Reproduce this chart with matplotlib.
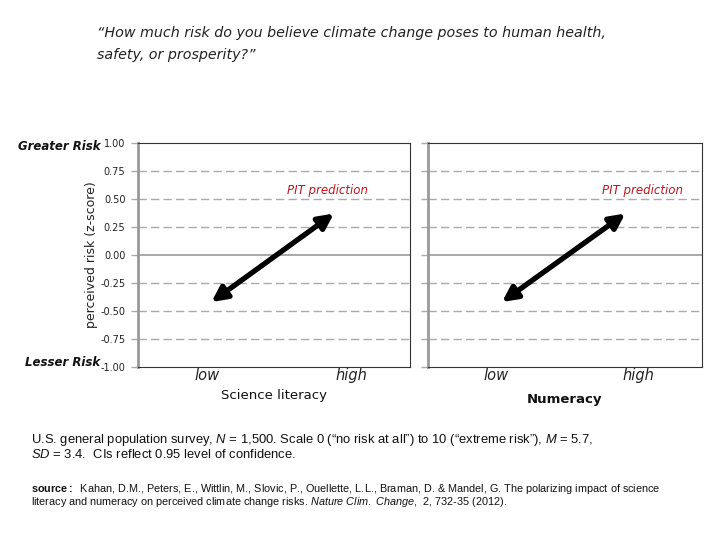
import matplotlib
matplotlib.use("Agg")
import matplotlib.pyplot as plt

plt.rcParams['mathtext.fontset'] = 'custom'
plt.rcParams['mathtext.rm'] = 'Liberation Sans'
plt.rcParams['mathtext.it'] = 'Liberation Sans:italic'
plt.rcParams['mathtext.bf'] = 'Liberation Sans:bold'

# ---- data ----
panels = ["Science literacy", "Numeracy"]
x_categories = ["low", "high"]
pred_low = [-0.42, -0.42]
pred_high = [0.37, 0.37]
yticks = [1.00, 0.75, 0.50, 0.25, 0.00, -0.25, -0.50, -0.75, -1.00]
ytick_labels = ["1.00", "0.75", "0.50", "0.25", "0.00", "-0.25", "-0.50", "-0.75", "-1.00"]
annotation = "PIT prediction"

fig = plt.figure(figsize=(7.2, 5.4), dpi=100)
fig.patch.set_facecolor("white")

positions = [[138/720, 1-367/540, 272/720, 224/540],
             [428/720, 1-367/540, 274/720, 224/540]]
label_x = [[-0.04, 1.14], [-0.05, 1.11]]
pit_x = [0.95, 1.14]

for i, name in enumerate(panels):
    ax = fig.add_axes(positions[i])
    ax.set_xlim(-0.6, 1.622)
    ax.set_ylim(-1.0, 1.0)
    for y in yticks:
        if y in (1.0, -1.0):
            continue
        if y == 0:
            ax.axhline(y, color="#999999", lw=1.2, zorder=1)
        else:
            ax.axhline(y, color="#aaaaaa", lw=1.0, ls=(0, (6, 3)), zorder=1)
    ax.set_yticks(yticks)
    if i == 0:
        ax.set_yticklabels(ytick_labels, fontsize=7, color="#222222")
    else:
        ax.set_yticklabels([])
    ax.tick_params(axis="y", length=5, color="#aaaaaa", width=1, pad=4)
    ax.set_xticks(label_x[i])
    ax.set_xticklabels(x_categories, fontsize=10.5, style="italic", color="#222222")
    ax.tick_params(axis="x", length=0, pad=1)
    for s in ["top", "right", "bottom"]:
        ax.spines[s].set_color("#333333")
        ax.spines[s].set_linewidth(0.8)
    ax.spines["left"].set_color("#999999")
    ax.spines["left"].set_linewidth(2.0)
    ax.annotate("", xy=(1, pred_high[i]), xytext=(0, pred_low[i]),
                arrowprops=dict(arrowstyle="<|-|>,head_length=0.9,head_width=0.45",
                                color="black", lw=3.8, shrinkA=0, shrinkB=0), zorder=3)
    ax.text(pit_x[i], 0.58, annotation, color="#c0141e", fontsize=8.5, style="italic",
            ha="center", va="center", zorder=4)
    if i == 0:
        ax.set_xlabel(name, fontsize=9.5, color="#111111", labelpad=4)
        ax.set_ylabel("perceived risk (z-score)", fontsize=9, color="#222222", labelpad=2)
    else:
        ax.set_xlabel(name, fontsize=9.5, color="#111111", labelpad=7, fontweight="bold")

fig.text(18/720, 1-146/540, "Greater Risk", fontsize=8.5, style="italic", fontweight="bold",
         ha="left", va="center", color="#111111")
fig.text(25/720, 1-362/540, "Lesser Risk", fontsize=8.5, style="italic", fontweight="bold",
         ha="left", va="center", color="#111111")

fig.text(97/720, 1-33/540, "\u201cHow much risk do you believe climate change poses to human health,",
         fontsize=10.3, style="italic", ha="left", va="center", color="#222222")
fig.text(97/720, 1-55/540, "safety, or prosperity?\u201d",
         fontsize=10.3, style="italic", ha="left", va="center", color="#222222")

foot = "Liberation Sans"
fig.text(31/720, 1-440/540,
         "U.S. general population survey, $\\it{N}$ = 1,500. Scale 0 (\u201cno risk at all\u201d) to 10 (\u201cextreme risk\u201d), $\\it{M}$ = 5.7,",
         fontsize=9.35, family=foot, ha="left", va="center", color="#111111")
fig.text(31/720, 1-455/540,
         "$\\it{SD}$ = 3.4.  CIs reflect 0.95 level of confidence.",
         fontsize=9.35, family=foot, ha="left", va="center", color="#111111")
fig.text(31/720, 1-489/540,
         "$\\bf{source:}$  Kahan, D.M., Peters, E., Wittlin, M., Slovic, P., Ouellette, L.L., Braman, D. & Mandel, G. The polarizing impact of science",
         fontsize=7.85, family=foot, ha="left", va="center", color="#111111")
fig.text(31/720, 1-502/540,
         "literacy and numeracy on perceived climate change risks. $\\it{Nature\\ Clim.\\ Change}$,  2, 732-35 (2012).",
         fontsize=7.85, family=foot, ha="left", va="center", color="#111111")

fig.savefig("out.png", dpi=100, facecolor="white")
